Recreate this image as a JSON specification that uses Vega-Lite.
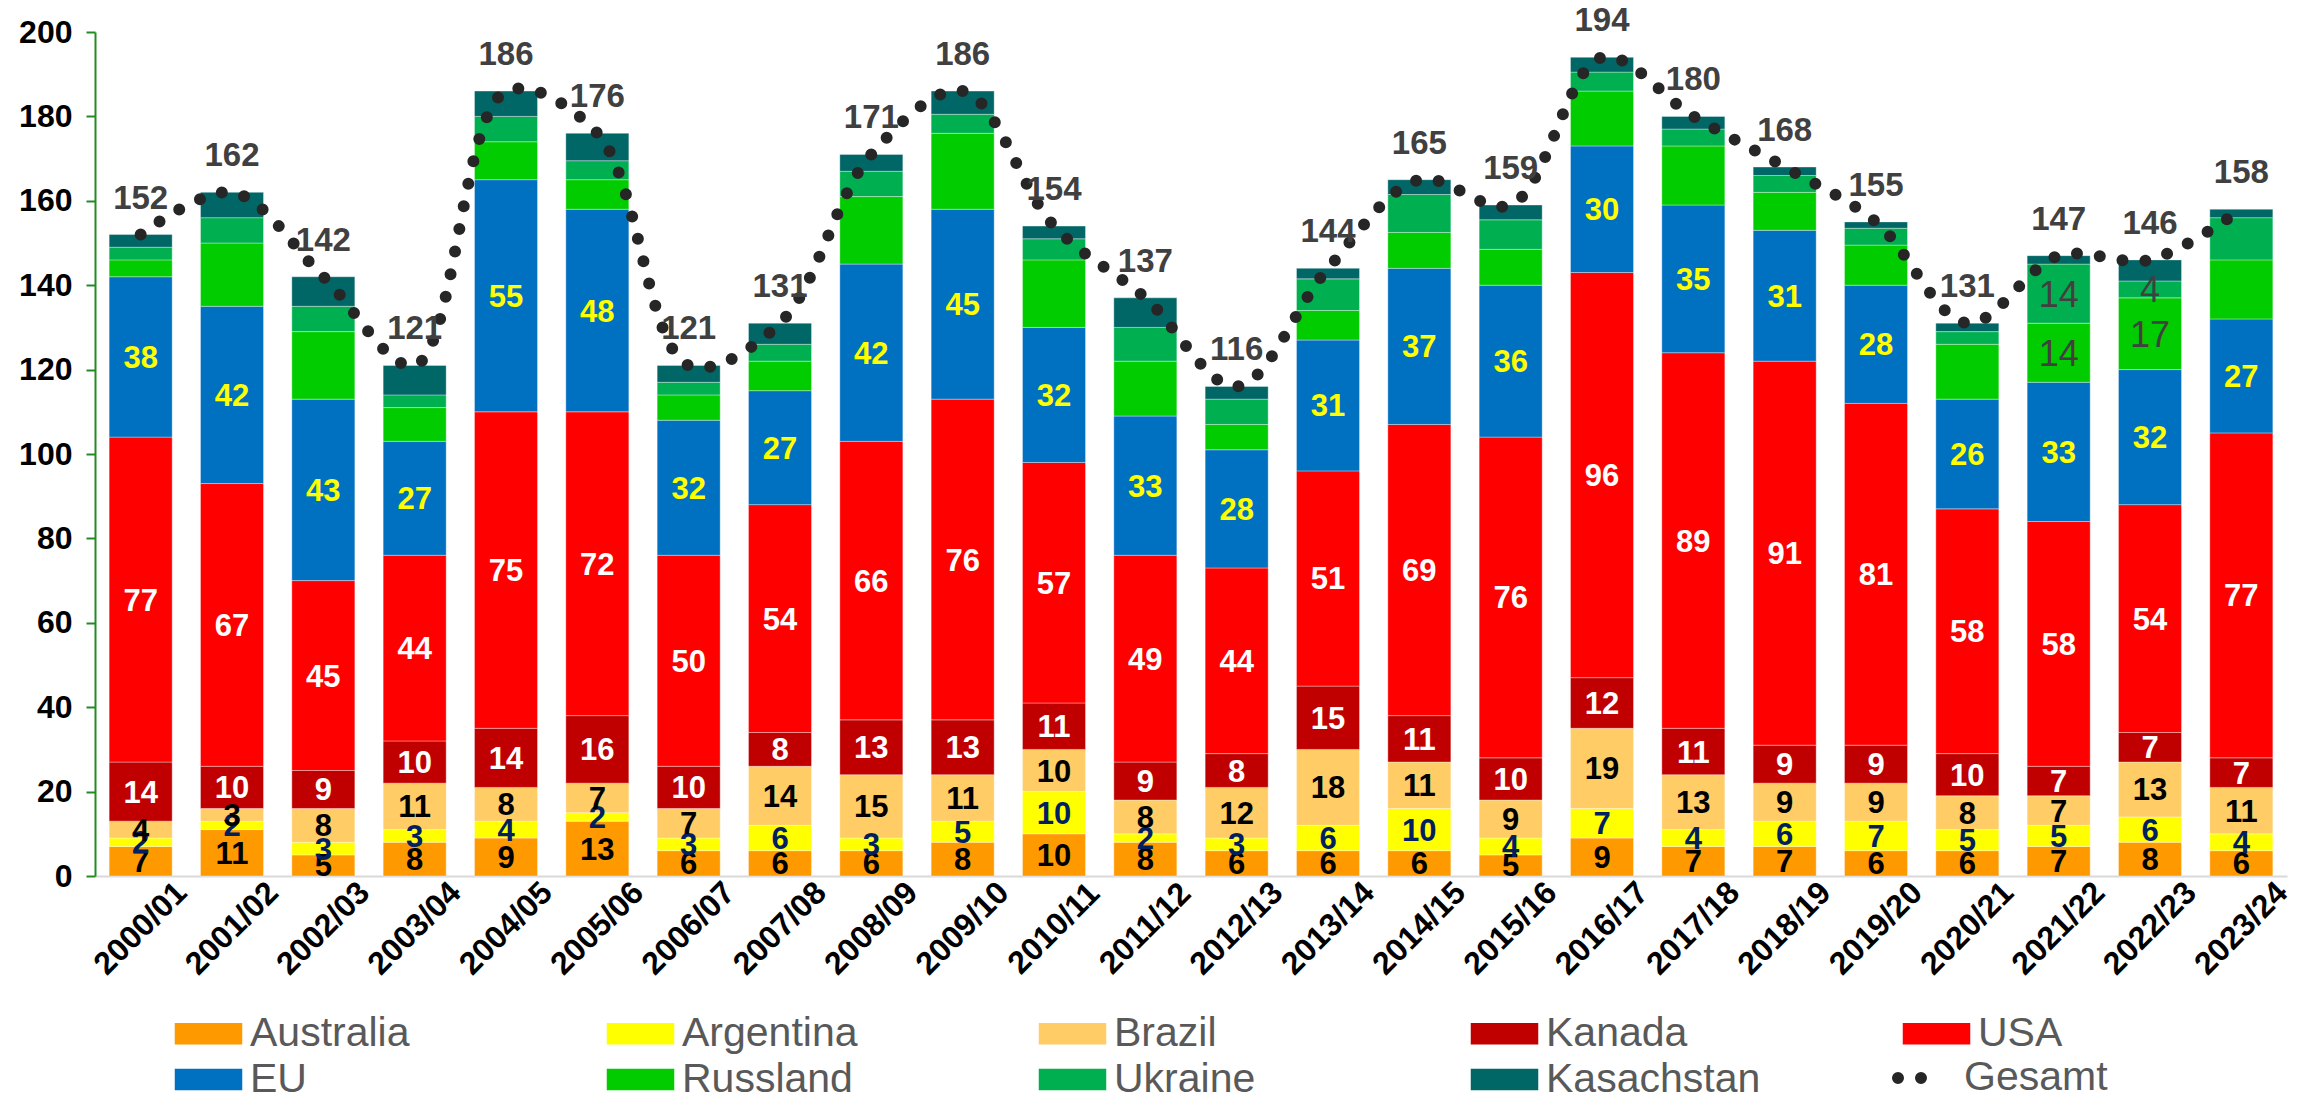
{
  "$schema": "https://vega.github.io/schema/vega-lite/v6.json",
  "width": 2192,
  "height": 844,
  "autosize": "none",
  "padding": {"left": 95, "top": 32, "right": 26, "bottom": 223},
  "background": "white",
  "config": {
    "view": {"stroke": null},
    "font": "Liberation Sans",
    "axisY": {
      "grid": false, "labelFont": "Liberation Sans", "labelFontSize": 32, "labelFontWeight": "bold", "labelColor": "#000000",
      "domainColor": "#228B22", "domainWidth": 2, "tickColor": "#228B22", "tickWidth": 2, "tickSize": 9, "labelPadding": 14, "tickCount": 10
    }
  },
  "datasets": {
    "segments": [
      {"year":"2000/01","series":"Australia","value":7},{"year":"2000/01","series":"Argentina","value":2},{"year":"2000/01","series":"Brazil","value":4},{"year":"2000/01","series":"Kanada","value":14},{"year":"2000/01","series":"USA","value":77},{"year":"2000/01","series":"EU","value":38},{"year":"2000/01","series":"Russland","value":4},{"year":"2000/01","series":"Ukraine","value":3},{"year":"2000/01","series":"Kasachstan","value":3},
      {"year":"2001/02","series":"Australia","value":11},{"year":"2001/02","series":"Argentina","value":2},{"year":"2001/02","series":"Brazil","value":3},{"year":"2001/02","series":"Kanada","value":10},{"year":"2001/02","series":"USA","value":67},{"year":"2001/02","series":"EU","value":42},{"year":"2001/02","series":"Russland","value":15},{"year":"2001/02","series":"Ukraine","value":6},{"year":"2001/02","series":"Kasachstan","value":6},
      {"year":"2002/03","series":"Australia","value":5},{"year":"2002/03","series":"Argentina","value":3},{"year":"2002/03","series":"Brazil","value":8},{"year":"2002/03","series":"Kanada","value":9},{"year":"2002/03","series":"USA","value":45},{"year":"2002/03","series":"EU","value":43},{"year":"2002/03","series":"Russland","value":16},{"year":"2002/03","series":"Ukraine","value":6},{"year":"2002/03","series":"Kasachstan","value":7},
      {"year":"2003/04","series":"Australia","value":8},{"year":"2003/04","series":"Argentina","value":3},{"year":"2003/04","series":"Brazil","value":11},{"year":"2003/04","series":"Kanada","value":10},{"year":"2003/04","series":"USA","value":44},{"year":"2003/04","series":"EU","value":27},{"year":"2003/04","series":"Russland","value":8},{"year":"2003/04","series":"Ukraine","value":3},{"year":"2003/04","series":"Kasachstan","value":7},
      {"year":"2004/05","series":"Australia","value":9},{"year":"2004/05","series":"Argentina","value":4},{"year":"2004/05","series":"Brazil","value":8},{"year":"2004/05","series":"Kanada","value":14},{"year":"2004/05","series":"USA","value":75},{"year":"2004/05","series":"EU","value":55},{"year":"2004/05","series":"Russland","value":9},{"year":"2004/05","series":"Ukraine","value":6},{"year":"2004/05","series":"Kasachstan","value":6},
      {"year":"2005/06","series":"Australia","value":13},{"year":"2005/06","series":"Argentina","value":2},{"year":"2005/06","series":"Brazil","value":7},{"year":"2005/06","series":"Kanada","value":16},{"year":"2005/06","series":"USA","value":72},{"year":"2005/06","series":"EU","value":48},{"year":"2005/06","series":"Russland","value":7},{"year":"2005/06","series":"Ukraine","value":4.5},{"year":"2005/06","series":"Kasachstan","value":6.5},
      {"year":"2006/07","series":"Australia","value":6},{"year":"2006/07","series":"Argentina","value":3},{"year":"2006/07","series":"Brazil","value":7},{"year":"2006/07","series":"Kanada","value":10},{"year":"2006/07","series":"USA","value":50},{"year":"2006/07","series":"EU","value":32},{"year":"2006/07","series":"Russland","value":6},{"year":"2006/07","series":"Ukraine","value":3},{"year":"2006/07","series":"Kasachstan","value":4},
      {"year":"2007/08","series":"Australia","value":6},{"year":"2007/08","series":"Argentina","value":6},{"year":"2007/08","series":"Brazil","value":14},{"year":"2007/08","series":"Kanada","value":8},{"year":"2007/08","series":"USA","value":54},{"year":"2007/08","series":"EU","value":27},{"year":"2007/08","series":"Russland","value":7},{"year":"2007/08","series":"Ukraine","value":4},{"year":"2007/08","series":"Kasachstan","value":5},
      {"year":"2008/09","series":"Australia","value":6},{"year":"2008/09","series":"Argentina","value":3},{"year":"2008/09","series":"Brazil","value":15},{"year":"2008/09","series":"Kanada","value":13},{"year":"2008/09","series":"USA","value":66},{"year":"2008/09","series":"EU","value":42},{"year":"2008/09","series":"Russland","value":16},{"year":"2008/09","series":"Ukraine","value":6},{"year":"2008/09","series":"Kasachstan","value":4},
      {"year":"2009/10","series":"Australia","value":8},{"year":"2009/10","series":"Argentina","value":5},{"year":"2009/10","series":"Brazil","value":11},{"year":"2009/10","series":"Kanada","value":13},{"year":"2009/10","series":"USA","value":76},{"year":"2009/10","series":"EU","value":45},{"year":"2009/10","series":"Russland","value":18},{"year":"2009/10","series":"Ukraine","value":4.5},{"year":"2009/10","series":"Kasachstan","value":5.5},
      {"year":"2010/11","series":"Australia","value":10},{"year":"2010/11","series":"Argentina","value":10},{"year":"2010/11","series":"Brazil","value":10},{"year":"2010/11","series":"Kanada","value":11},{"year":"2010/11","series":"USA","value":57},{"year":"2010/11","series":"EU","value":32},{"year":"2010/11","series":"Russland","value":16},{"year":"2010/11","series":"Ukraine","value":5},{"year":"2010/11","series":"Kasachstan","value":3},
      {"year":"2011/12","series":"Australia","value":8},{"year":"2011/12","series":"Argentina","value":2},{"year":"2011/12","series":"Brazil","value":8},{"year":"2011/12","series":"Kanada","value":9},{"year":"2011/12","series":"USA","value":49},{"year":"2011/12","series":"EU","value":33},{"year":"2011/12","series":"Russland","value":13},{"year":"2011/12","series":"Ukraine","value":8},{"year":"2011/12","series":"Kasachstan","value":7},
      {"year":"2012/13","series":"Australia","value":6},{"year":"2012/13","series":"Argentina","value":3},{"year":"2012/13","series":"Brazil","value":12},{"year":"2012/13","series":"Kanada","value":8},{"year":"2012/13","series":"USA","value":44},{"year":"2012/13","series":"EU","value":28},{"year":"2012/13","series":"Russland","value":6},{"year":"2012/13","series":"Ukraine","value":6},{"year":"2012/13","series":"Kasachstan","value":3},
      {"year":"2013/14","series":"Australia","value":6},{"year":"2013/14","series":"Argentina","value":6},{"year":"2013/14","series":"Brazil","value":18},{"year":"2013/14","series":"Kanada","value":15},{"year":"2013/14","series":"USA","value":51},{"year":"2013/14","series":"EU","value":31},{"year":"2013/14","series":"Russland","value":7},{"year":"2013/14","series":"Ukraine","value":7.5},{"year":"2013/14","series":"Kasachstan","value":2.5},
      {"year":"2014/15","series":"Australia","value":6},{"year":"2014/15","series":"Argentina","value":10},{"year":"2014/15","series":"Brazil","value":11},{"year":"2014/15","series":"Kanada","value":11},{"year":"2014/15","series":"USA","value":69},{"year":"2014/15","series":"EU","value":37},{"year":"2014/15","series":"Russland","value":8.5},{"year":"2014/15","series":"Ukraine","value":9},{"year":"2014/15","series":"Kasachstan","value":3.5},
      {"year":"2015/16","series":"Australia","value":5},{"year":"2015/16","series":"Argentina","value":4},{"year":"2015/16","series":"Brazil","value":9},{"year":"2015/16","series":"Kanada","value":10},{"year":"2015/16","series":"USA","value":76},{"year":"2015/16","series":"EU","value":36},{"year":"2015/16","series":"Russland","value":8.5},{"year":"2015/16","series":"Ukraine","value":7},{"year":"2015/16","series":"Kasachstan","value":3.5},
      {"year":"2016/17","series":"Australia","value":9},{"year":"2016/17","series":"Argentina","value":7},{"year":"2016/17","series":"Brazil","value":19},{"year":"2016/17","series":"Kanada","value":12},{"year":"2016/17","series":"USA","value":96},{"year":"2016/17","series":"EU","value":30},{"year":"2016/17","series":"Russland","value":13},{"year":"2016/17","series":"Ukraine","value":4.5},{"year":"2016/17","series":"Kasachstan","value":3.5},
      {"year":"2017/18","series":"Australia","value":7},{"year":"2017/18","series":"Argentina","value":4},{"year":"2017/18","series":"Brazil","value":13},{"year":"2017/18","series":"Kanada","value":11},{"year":"2017/18","series":"USA","value":89},{"year":"2017/18","series":"EU","value":35},{"year":"2017/18","series":"Russland","value":14},{"year":"2017/18","series":"Ukraine","value":4},{"year":"2017/18","series":"Kasachstan","value":3},
      {"year":"2018/19","series":"Australia","value":7},{"year":"2018/19","series":"Argentina","value":6},{"year":"2018/19","series":"Brazil","value":9},{"year":"2018/19","series":"Kanada","value":9},{"year":"2018/19","series":"USA","value":91},{"year":"2018/19","series":"EU","value":31},{"year":"2018/19","series":"Russland","value":9},{"year":"2018/19","series":"Ukraine","value":4},{"year":"2018/19","series":"Kasachstan","value":2},
      {"year":"2019/20","series":"Australia","value":6},{"year":"2019/20","series":"Argentina","value":7},{"year":"2019/20","series":"Brazil","value":9},{"year":"2019/20","series":"Kanada","value":9},{"year":"2019/20","series":"USA","value":81},{"year":"2019/20","series":"EU","value":28},{"year":"2019/20","series":"Russland","value":9.5},{"year":"2019/20","series":"Ukraine","value":4},{"year":"2019/20","series":"Kasachstan","value":1.5},
      {"year":"2020/21","series":"Australia","value":6},{"year":"2020/21","series":"Argentina","value":5},{"year":"2020/21","series":"Brazil","value":8},{"year":"2020/21","series":"Kanada","value":10},{"year":"2020/21","series":"USA","value":58},{"year":"2020/21","series":"EU","value":26},{"year":"2020/21","series":"Russland","value":13},{"year":"2020/21","series":"Ukraine","value":3},{"year":"2020/21","series":"Kasachstan","value":2},
      {"year":"2021/22","series":"Australia","value":7},{"year":"2021/22","series":"Argentina","value":5},{"year":"2021/22","series":"Brazil","value":7},{"year":"2021/22","series":"Kanada","value":7},{"year":"2021/22","series":"USA","value":58},{"year":"2021/22","series":"EU","value":33},{"year":"2021/22","series":"Russland","value":14},{"year":"2021/22","series":"Ukraine","value":14},{"year":"2021/22","series":"Kasachstan","value":2},
      {"year":"2022/23","series":"Australia","value":8},{"year":"2022/23","series":"Argentina","value":6},{"year":"2022/23","series":"Brazil","value":13},{"year":"2022/23","series":"Kanada","value":7},{"year":"2022/23","series":"USA","value":54},{"year":"2022/23","series":"EU","value":32},{"year":"2022/23","series":"Russland","value":17},{"year":"2022/23","series":"Ukraine","value":4},{"year":"2022/23","series":"Kasachstan","value":5},
      {"year":"2023/24","series":"Australia","value":6},{"year":"2023/24","series":"Argentina","value":4},{"year":"2023/24","series":"Brazil","value":11},{"year":"2023/24","series":"Kanada","value":7},{"year":"2023/24","series":"USA","value":77},{"year":"2023/24","series":"EU","value":27},{"year":"2023/24","series":"Russland","value":14},{"year":"2023/24","series":"Ukraine","value":10},{"year":"2023/24","series":"Kasachstan","value":2}
    ],
    "totals": [
      {"year":"2000/01","total":152},{"year":"2001/02","total":162},{"year":"2002/03","total":142},{"year":"2003/04","total":121},
      {"year":"2004/05","total":186},{"year":"2005/06","total":176},{"year":"2006/07","total":121},{"year":"2007/08","total":131},
      {"year":"2008/09","total":171},{"year":"2009/10","total":186},{"year":"2010/11","total":154},{"year":"2011/12","total":137},
      {"year":"2012/13","total":116},{"year":"2013/14","total":144},{"year":"2014/15","total":165},{"year":"2015/16","total":159},
      {"year":"2016/17","total":194},{"year":"2017/18","total":180},{"year":"2018/19","total":168},{"year":"2019/20","total":155},
      {"year":"2020/21","total":131},{"year":"2021/22","total":147},{"year":"2022/23","total":146},{"year":"2023/24","total":158}
    ]
  },
  "encoding": {
    "x": {
      "field": "year", "type": "nominal", "sort": null,
      "scale": {"paddingInner": 0.31, "paddingOuter": 0.155},
      "axis": {
        "title": null, "labelAngle": -45, "labelAlign": "center", "labelBaseline": "middle",
        "labelFont": "Liberation Sans", "labelFontSize": 32, "labelFontWeight": "bold", "labelColor": "#000000",
        "ticks": false, "domainColor": "#D9D9D9", "domainWidth": 2, "labelPadding": 52, "labelOverlap": false
      }
    }
  },
  "layer": [
    {
      "data": {"name": "segments"},
      "transform": [
        {"calculate": "indexof(['Australia','Argentina','Brazil','Kanada','USA','EU','Russland','Ukraine','Kasachstan'], datum.series)", "as": "ord"},
        {"stack": "value", "groupby": ["year"], "sort": [{"field": "ord", "order": "ascending"}], "as": ["v0", "v1"]}
      ],
      "mark": {"type": "bar", "stroke": "#ffffff", "strokeWidth": 1, "strokeOpacity": 0.35},
      "encoding": {
        "y": {
          "field": "v1", "type": "quantitative",
          "scale": {"domain": [0, 200], "nice": false, "zero": true},
          "axis": {"title": null}
        },
        "y2": {"field": "v0"},
        "color": {
          "field": "series", "type": "nominal",
          "scale": {
            "domain": ["Australia","Argentina","Brazil","Kanada","USA","EU","Russland","Ukraine","Kasachstan"],
            "range": ["#FF9900","#FFFF00","#FFCC66","#C00000","#FF0000","#0070C0","#00CC00","#00B050","#006666"]
          },
          "legend": {
            "title": null, "orient": "none", "legendX": 91, "legendY": 979, "direction": "horizontal",
            "columns": 5, "gridAlign": "all", "padding": 0,
            "symbolType": "M-1.5,-0.48H1.5V0.48H-1.5Z", "symbolSize": 2025, "symbolStrokeWidth": 0,
            "labelFont": "Liberation Sans", "labelFontSize": 41, "labelColor": "#595959", "labelOffset": 19,
            "labelLimit": 500, "columnPadding": 141, "rowPadding": 3
          }
        }
      }
    },
    {
      "data": {"name": "segments"},
      "transform": [
        {"calculate": "indexof(['Australia','Argentina','Brazil','Kanada','USA','EU','Russland','Ukraine','Kasachstan'], datum.series)", "as": "ord"},
        {"stack": "value", "groupby": ["year"], "sort": [{"field": "ord", "order": "ascending"}], "as": ["v0", "v1"]},
        {"calculate": "(datum.v0 + datum.v1) / 2", "as": "vm"},
        {"filter": "indexof(['Australia','Argentina','Brazil','Kanada','USA','EU'], datum.series) >= 0"}
      ],
      "mark": {"type": "text", "font": "Liberation Sans", "fontSize": 31, "fontWeight": "bold", "baseline": "middle", "align": "center", "dy": 2},
      "encoding": {
        "y": {"field": "vm", "type": "quantitative", "axis": {"title": null}},
        "text": {"field": "value", "type": "quantitative", "format": ".0f"},
        "fill": {
          "field": "series", "type": "nominal", "legend": null,
          "scale": {
            "domain": ["Australia","Argentina","Brazil","Kanada","USA","EU"],
            "range": ["#000000","#002060","#000000","#FFFFFF","#FFFFFF","#FFFF00"]
          }
        }
      }
    },
    {
      "data": {"name": "segments"},
      "transform": [
        {"calculate": "indexof(['Australia','Argentina','Brazil','Kanada','USA','EU','Russland','Ukraine','Kasachstan'], datum.series)", "as": "ord"},
        {"stack": "value", "groupby": ["year"], "sort": [{"field": "ord", "order": "ascending"}], "as": ["v0", "v1"]},
        {"calculate": "(datum.v0 + datum.v1) / 2", "as": "vm"},
        {"filter": "(datum.series == 'Russland' || datum.series == 'Ukraine') && (datum.year == '2021/22' || datum.year == '2022/23')"}
      ],
      "mark": {"type": "text", "font": "Liberation Sans", "fontSize": 36, "fontWeight": "normal", "baseline": "middle", "align": "center", "dy": 2, "color": "#404040"},
      "encoding": {
        "y": {"field": "vm", "type": "quantitative", "axis": {"title": null}},
        "text": {"field": "value", "type": "quantitative", "format": ".0f"}
      }
    },
    {
      "data": {"name": "totals"},
      "mark": {"type": "line", "interpolate": "catmull-rom", "color": "#262626", "strokeWidth": 12, "strokeCap": "round"},
      "encoding": {
        "y": {"field": "total", "type": "quantitative", "axis": {"title": null}},
        "strokeDash": {
          "datum": "Gesamt", "type": "nominal",
          "scale": {"domain": ["Gesamt"], "range": [[0, 23]]},
          "legend": {
            "title": null, "orient": "none", "legendX": 1797, "legendY": 1022, "padding": 0,
            "symbolType": "stroke", "symbolSize": 1296, "symbolStrokeWidth": 12, "symbolStrokeColor": "#262626",
            "symbolDash": [0, 18],
            "labelFont": "Liberation Sans", "labelFontSize": 41, "labelColor": "#595959", "labelOffset": 24, "labelLimit": 500,
            "encode": {"symbols": {"update": {"strokeCap": {"value": "round"}, "stroke": {"value": "#262626"}, "strokeDash": {"value": [0, 18]}}}}
          }
        }
      }
    },
    {
      "data": {"name": "totals"},
      "mark": {"type": "text", "font": "Liberation Sans", "fontSize": 33, "fontWeight": "bold", "baseline": "alphabetic", "align": "center", "dy": -26, "color": "#404040"},
      "encoding": {
        "y": {"field": "total", "type": "quantitative", "axis": {"title": null}},
        "text": {"field": "total", "type": "quantitative"}
      }
    }
  ]
}
